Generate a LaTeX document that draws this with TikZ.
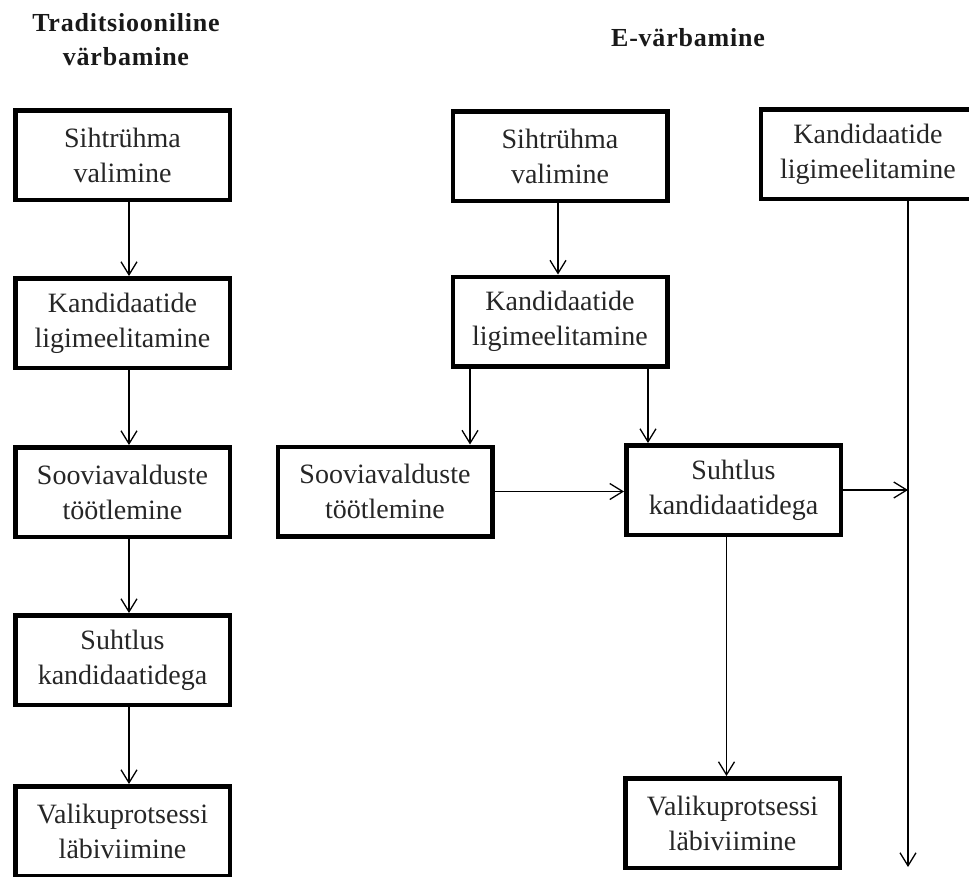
\documentclass[tikz,border=0pt]{standalone}
\usepackage{fontspec}
\setmainfont{Liberation Serif}
\usetikzlibrary{arrows.meta}
\begin{document}
\begin{tikzpicture}[x=1pt,y=-1pt,
  stage/.style={draw=black, line width=4.5pt, fill=white,
    minimum width=214.5pt, minimum height=89.5pt, inner sep=0pt,
    align=center, text=black!85, font=\fontsize{28}{35}\selectfont},
  heading/.style={align=center, text=black!90,
    font=\bfseries\fontsize{26}{34}\selectfont\addfontfeature{LetterSpace=3}},
  flow/.style={line width=1.3pt,
    -{Straight Barb[length=13pt,width=16pt,line width=1.3pt]}}]
\useasboundingbox (0,0) rectangle (969,876);
\clip (0,0) rectangle (969,876);

% column headings
\node[heading] (tradtitle) at (126,40) {Traditsiooniline\\värbamine};
\node[heading] (etitle) at (688,38) {E-värbamine};

% traditional recruitment
\node[stage] (l1) at (122.5,155) {Sihtrühma\\valimine};
\node[stage] (l2) at (122.5,323) {Kandidaatide\\ligimeelitamine};
\node[stage] (l3) at (122.5,492) {Sooviavalduste\\töötlemine};
\node[stage] (l4) at (122.5,660) {Suhtlus\\kandidaatidega};
\node[stage] (l5) at (122.5,831) {Valikuprotsessi\\läbiviimine};

% e-recruitment
\node[stage] (r1) at (560,156) {Sihtrühma\\valimine};
\node[stage] (r2) at (560,321.5) {Kandidaatide\\ligimeelitamine};
\node[stage] (r3) at (385,491.5) {Sooviavalduste\\töötlemine};
\node[stage] (r4) at (733.5,490) {Suhtlus\\kandidaatidega};
\node[stage] (r5) at (732.5,823) {Valikuprotsessi\\läbiviimine};
\node[stage] (r6) at (868,154) {Kandidaatide\\ligimeelitamine};
\coordinate (rail) at (908,867);

% traditional flow
\foreach \a/\b in {l1/l2,l2/l3,l3/l4,l4/l5}
  \draw[flow] ([xshift=6.5pt]\a.south) -- ([xshift=6.5pt]\b.north);

% e-recruitment flow
\draw[flow] ([xshift=-2pt]r1.south) -- ([xshift=-2pt]r2.north);
\draw[flow] ([xshift=-90pt]r2.south) -- ([xshift=-90pt]r2.south |- r3.north);
\draw[flow] ([xshift=88pt]r2.south) -- ([xshift=88pt]r2.south |- r4.north);
\draw[flow] (r3.east) -- (r3.east -| r4.west);
\draw[flow] (r4.east) -- (r4.east -| rail);
\draw[flow] ([xshift=-7pt]r4.south) -- ([xshift=-7pt]r4.south |- r5.north);
\draw[flow] ([xshift=40pt]r6.south) -- (rail);
\end{tikzpicture}
\end{document}
